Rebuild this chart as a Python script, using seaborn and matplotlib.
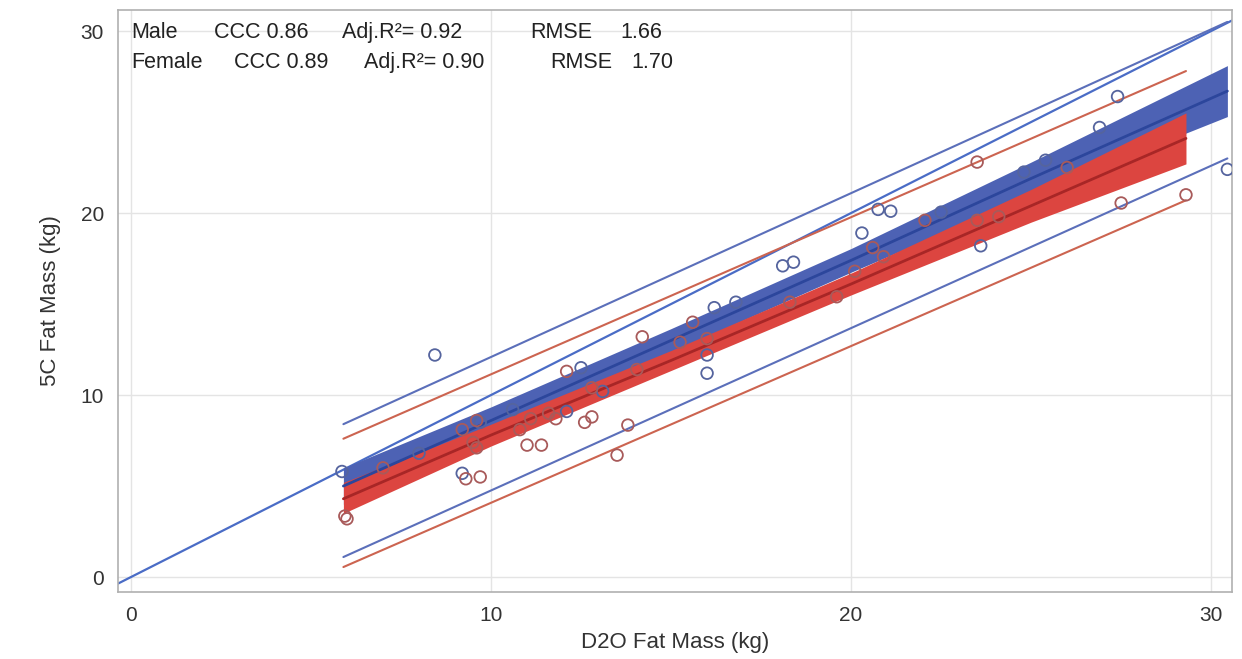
import numpy as np
import pandas as pd
import seaborn as sns
import matplotlib.pyplot as plt

# Scatter data (D2O vs 5C fat mass, kg)
male_d2o = [5.86, 8.0, 8.44, 9.2, 9.7, 10.6, 12.1, 12.5, 13.1, 16.0, 16.0, 16.2, 16.8,
            18.1, 18.4, 20.3, 20.75, 21.1, 22.5, 23.6, 24.8, 25.4, 26.9, 27.4, 30.45]
male_5c = [5.8, 6.8, 12.2, 5.7, 8.5, 9.2, 9.1, 11.5, 10.2, 12.2, 11.2, 14.8, 15.1,
           17.1, 17.3, 18.9, 20.2, 20.1, 20.05, 18.2, 22.25, 22.9, 24.7, 26.4, 22.4]

female_d2o = [5.94, 6.0, 7.0, 9.2, 9.3, 9.5, 9.6, 9.6, 9.7, 10.8, 11.0, 11.1, 11.4, 11.6,
              11.8, 12.1, 12.6, 12.8, 12.8, 13.5, 13.8, 14.05, 14.2, 15.25, 15.6, 16.0,
              18.3, 19.6, 20.1, 20.6, 20.9, 22.05, 23.5, 23.5, 24.1, 26.0, 27.5, 29.3]
female_5c = [3.35, 3.2, 6.0, 8.1, 5.4, 7.4, 7.1, 8.6, 5.5, 8.1, 7.25, 8.7, 7.25, 9.0,
             8.7, 11.3, 8.5, 8.8, 10.4, 6.7, 8.35, 11.4, 13.2, 12.9, 14.0, 13.1,
             15.1, 15.4, 16.8, 18.1, 17.6, 19.6, 22.8, 19.6, 19.8, 22.5, 20.55, 21.0]

# Fitted lines with confidence bands
male_fit_x = [5.9, 10.0, 15.0, 20.0, 25.0, 30.45]
male_fit = [5.0, 8.6, 13.0, 17.4, 21.9, 26.7]
male_cl_lo = [4.0, 7.85, 12.35, 16.75, 21.0, 25.3]
male_cl_hi = [6.0, 9.35, 13.65, 18.05, 22.8, 28.1]

female_fit_x = [5.9, 10.0, 15.0, 20.0, 25.0, 29.3]
female_fit = [4.3, 7.8, 11.9, 16.1, 20.4, 24.1]
female_cl_lo = [3.5, 7.2, 11.35, 15.5, 19.5, 22.7]
female_cl_hi = [5.2, 8.4, 12.45, 16.7, 21.3, 25.5]

# Prediction limits (straight lines)
male_pl_x = [5.9, 30.45]
male_pl_lo = [1.1, 23.0]
male_pl_hi = [8.4, 30.5]
female_pl_x = [5.9, 29.3]
female_pl_lo = [0.55, 20.7]
female_pl_hi = [7.6, 27.8]

stats_rows = [
    ["Male", "CCC 0.86", "Adj.R\u00b2= 0.92", "RMSE", "1.66"],
    ["Female", "CCC 0.89", "Adj.R\u00b2= 0.90", "RMSE", "1.70"],
]

sns.set_style("whitegrid")
plt.rcParams['font.family'] = ['Liberation Sans', 'DejaVu Sans']

fig = plt.figure(figsize=(12.42, 6.59), dpi=100)
ax = fig.add_axes([0.095, 0.1017, 0.897, 0.883])

blue_band = '#4d62b4'
blue_line = '#2c469c'
red_band = '#dc4540'
red_line = '#a82626'

# identity line
ax.axline((0, 0), slope=1, color='#4a6cc6', lw=1.6, zorder=2)

# confidence bands
ax.fill_between(male_fit_x, male_cl_lo, male_cl_hi, color=blue_band, lw=0, zorder=3)
ax.fill_between(female_fit_x, female_cl_lo, female_cl_hi, color=red_band, lw=0, zorder=4)

# fit lines
sns.lineplot(x=male_fit_x, y=male_fit, color=blue_line, lw=2, ax=ax, zorder=5)
sns.lineplot(x=female_fit_x, y=female_fit, color=red_line, lw=2, ax=ax, zorder=5)

# prediction limits
for y in (male_pl_lo, male_pl_hi):
    sns.lineplot(x=male_pl_x, y=y, color='#5b6fba', lw=1.5, ax=ax, zorder=2)
for y in (female_pl_lo, female_pl_hi):
    sns.lineplot(x=female_pl_x, y=y, color='#cc6450', lw=1.5, ax=ax, zorder=2)

# observations
sns.scatterplot(x=male_d2o, y=male_5c, ax=ax, s=70, facecolor='none',
                edgecolor='#55649e', linewidth=1.3, zorder=6)
sns.scatterplot(x=female_d2o, y=female_5c, ax=ax, s=70, facecolor='none',
                edgecolor='#a85a5a', linewidth=1.3, zorder=6)

ax.set_xlim(-0.36, 30.58)
ax.set_ylim(-0.82, 31.15)
ax.set_xticks([0, 10, 20, 30])
ax.set_yticks([0, 10, 20, 30])
ax.grid(True, color='#e4e4e4', lw=1)
for s in ax.spines.values():
    s.set_color('#b0b0b0')
    s.set_linewidth(1.2)
ax.tick_params(axis='both', direction='out', length=6, width=1, color='#b0b0b0',
               labelsize=15, labelcolor='#333333', pad=4)
ax.set_xlabel('D2O Fat Mass (kg)', fontsize=16, color='#333333', labelpad=5)
ax.set_ylabel('5C Fat Mass (kg)', fontsize=16, color='#333333', labelpad=14)

# statistics text
col_px = [[131, 214, 342, 530, 620], [131, 234, 364, 550, 631]]
row_py = [32, 62]
for row, cols, py in zip(stats_rows, col_px, row_py):
    for txt, px in zip(row, cols):
        ax.text((px - 118) / 1114, 1 - (py - 10) / 582, txt, transform=ax.transAxes,
                fontsize=15.5, color='#222222', va='center', ha='left', zorder=7)

fig.savefig('out.png', dpi=100)
